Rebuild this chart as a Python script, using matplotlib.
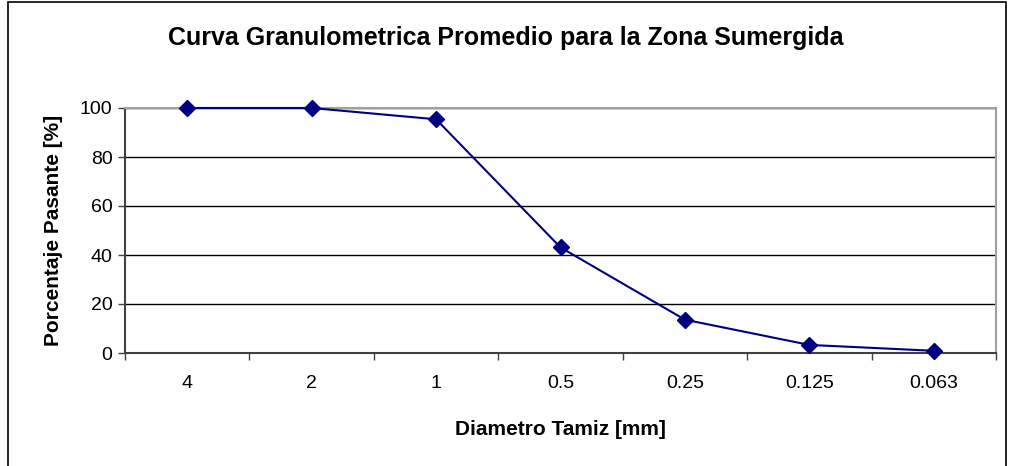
import matplotlib.pyplot as plt
from matplotlib.patches import Rectangle

plt.rcParams['font.family'] = ['Liberation Sans', 'DejaVu Sans']

# Data
diametros = ['4', '2', '1', '0.5', '0.25', '0.125', '0.063']
pasante = [100, 100, 95.4, 43.1, 13.6, 3.3, 0.9]

fig = plt.figure(figsize=(10.09, 4.66), dpi=100)
ax = fig.add_axes([125 / 1009, 113 / 466, 871 / 1009, 245 / 466])

x = list(range(len(diametros)))
ax.plot(x, pasante, color='#000080', linewidth=1.5, marker='D',
        markersize=8, markerfacecolor='#000080', markeredgecolor='#000080',
        zorder=3, clip_on=False)

ax.set_xlim(-0.5, len(diametros) - 0.5)
ax.set_ylim(0, 100)

# category boundaries get tick marks, labels sit in the middle
ax.set_xticks([i - 0.5 for i in range(len(diametros) + 1)])
ax.set_xticklabels([])
ax.set_xticks(x, minor=True)
ax.set_xticklabels(diametros, minor=True)
ax.tick_params(axis='x', which='major', direction='out', length=5,
               color='#404040', width=1)
ax.tick_params(axis='x', which='minor', length=0, pad=16, labelsize=14)

ax.set_yticks([0, 20, 40, 60, 80, 100])
ax.tick_params(axis='y', direction='out', length=5, color='#404040',
               width=1, labelsize=14, pad=4)

ax.grid(axis='y', color='black', linewidth=1, zorder=1)
ax.set_axisbelow(True)

for side in ['top', 'right']:
    ax.spines[side].set_color('#a0a0a0')
    ax.spines[side].set_linewidth(1.5)
for side in ['left', 'bottom']:
    ax.spines[side].set_color('#404040')
    ax.spines[side].set_linewidth(1.5)

ax.set_xlabel('Diametro Tamiz [mm]', fontsize=15, fontweight='bold',
              labelpad=20)
ax.set_ylabel('Porcentaje Pasante [%]', fontsize=15, fontweight='bold',
              labelpad=12)

fig.text(506 / 1009, 1 - 38 / 466,
         'Curva Granulometrica Promedio para la Zona Sumergida',
         ha='center', va='center', fontsize=18, fontweight='bold')

# outer chart frame
fig.patches.append(Rectangle((8 / 1009, -0.01), 998 / 1009, 1 - 1.5 / 466 + 0.01,
                             transform=fig.transFigure, fill=False,
                             edgecolor='black', linewidth=1.2))

fig.savefig('out.png', dpi=100)
